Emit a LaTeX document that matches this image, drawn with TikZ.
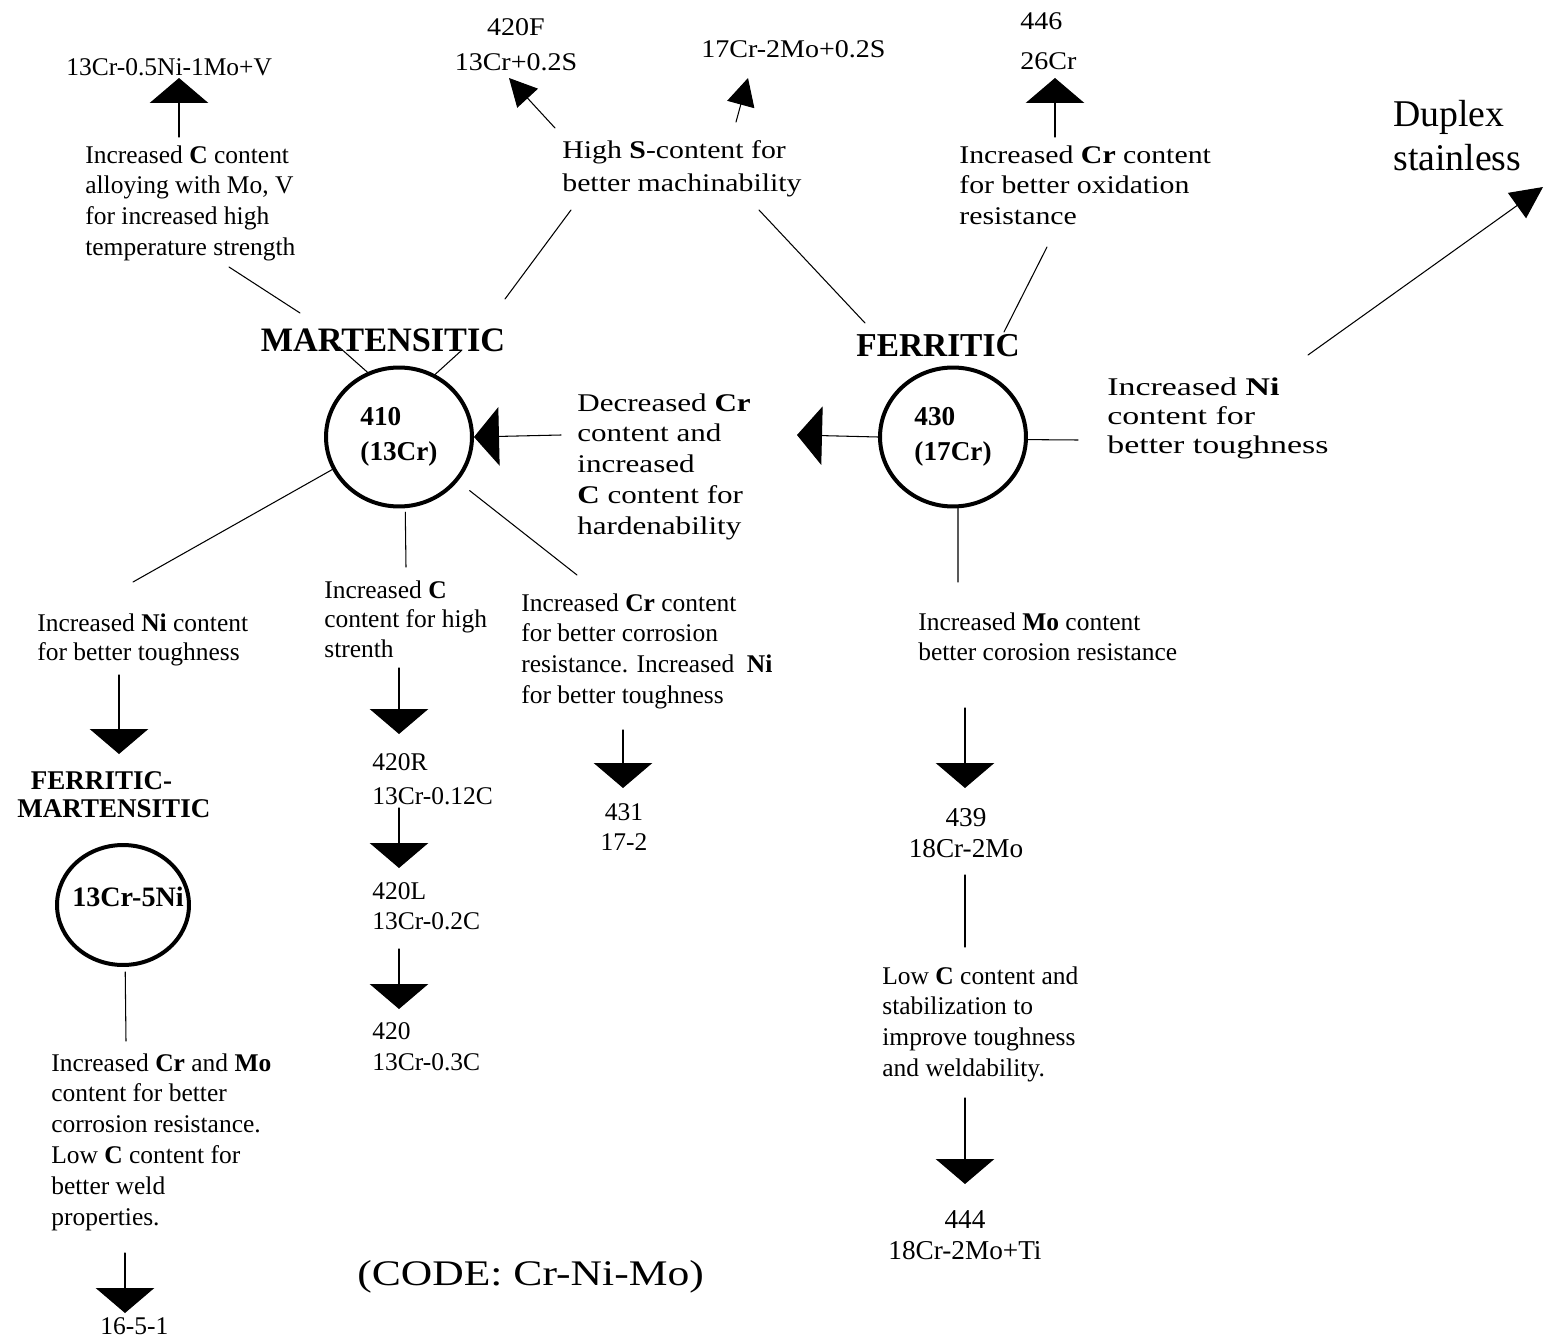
\documentclass[tikz,border=0pt]{standalone}
\usepackage{fontspec}
\setmainfont{Liberation Serif}
\newfontfamily\strA[FakeStretch=1.10]{Liberation Serif}
\newfontfamily\strB[FakeStretch=1.17]{Liberation Serif}
\newfontfamily\strC[FakeStretch=1.22]{Liberation Serif}
\newfontfamily\strD[FakeStretch=1.33]{Liberation Serif}
\newcommand\fsN{\fontsize{14.5pt}{17.6pt}\selectfont}
\usetikzlibrary{arrows.meta,shapes.geometric,positioning}

\begin{document}
\begin{tikzpicture}[x=0.02cm,y=-0.02cm,line cap=round,
  txt/.style={anchor=north west,align=left,inner sep=0pt,font=\fsN},
  lbl/.style={anchor=north west,align=left,inner sep=0pt,font=\fsN},
  head/.style={inner sep=0pt,font=\bfseries\fontsize{19.5pt}{22pt}\selectfont},
  ring/.style={draw,ellipse,line width=0.08cm,inner sep=0pt,
               minimum width=2.92cm,minimum height=2.78cm,align=left,
               font=\bfseries\fontsize{15.5pt}{20pt}\selectfont},
  lnk/.style={line width=0.6pt},
  arrV/.style={lnk,-{Triangle[length=0.5cm,width=1.17cm]}},
  arrS/.style={lnk,-{Triangle[length=0.55cm,width=0.56cm]}},
  arrL/.style={lnk,-{Triangle[length=0.64cm,width=0.62cm]}}]
  \useasboundingbox (0,0) rectangle (1548,1341);

  % top row
  \node[lbl] (l13V) at (66,58) {13Cr-0.5Ni-1Mo+V};
  \node[txt] (tHiT) at (85,145) {Increased \textbf{C} content\\alloying with Mo, V\\for increased high\\temperature strength};
  \node[lbl,anchor=north,align=center,font=\strA\fontsize{14.5pt}{20pt}\selectfont] (l420F) at (516,18) {420F\\13Cr+0.2S};
  \node[lbl,font=\strA\fsN] (l17S) at (701,40) {17Cr-2Mo+0.2S};
  \node[txt,font=\strB\fontsize{14.5pt}{18.8pt}\selectfont] (tS) at (562,140) {High \textbf{S}-content for\\better machinability};
  \node[lbl,font=\strA\fontsize{14.5pt}{23pt}\selectfont] (l446) at (1020,12) {446\\26Cr};
  \node[txt,font=\strB\fsN] (tCr) at (959,145) {Increased \textbf{Cr} content\\for better oxidation\\resistance};
  \node[lbl,font=\fontsize{21.5pt}{25pt}\selectfont] (lDup) at (1393,100) {Duplex\\stainless};

  % families
  \node[head] (hMar) at (383,340) {MARTENSITIC};
  \node[head,font=\bfseries\fontsize{19pt}{22pt}\selectfont] (hFer) at (938,346) {FERRITIC};
  \node[ring] (c410) at (399,437) {410\\(13Cr)};
  \node[ring] (c430) at (953,437) {430\\(17Cr)};
  \node[txt,font=\strC\fsN] (tDec) at (577,393) {Decreased \textbf{Cr}\\content and\\increased\\\textbf{C} content for\\hardenability};
  \node[txt,font=\strD\fontsize{14.5pt}{16.7pt}\selectfont] (tNiR) at (1107,377) {Increased \textbf{Ni}\\content for\\better toughness};

  % lower branches
  \node[txt,font=\fontsize{14.5pt}{17pt}\selectfont] (tNiL) at (37,613) {Increased \textbf{Ni} content\\for better toughness};
  \node[txt,font=\fontsize{14.5pt}{17pt}\selectfont] (tC) at (324,580) {Increased \textbf{C}\\content for high\\strenth};
  \node[txt,font=\fontsize{14.5pt}{17.5pt}\selectfont] (tCrNi) at (521,593) {Increased \textbf{Cr} content\\for better corrosion\\resistance. Increased~~\textbf{Ni}\\for better toughness};
  \node[txt] (tMo) at (918,612) {Increased \textbf{Mo} content\\better corosion resistance};
  \node[txt] (tLowC) at (882,966) {Low \textbf{C} content and\\stabilization to\\improve toughness\\and weldability.};
  \node[txt] (tCrMo) at (51,1053) {Increased \textbf{Cr} and \textbf{Mo}\\content for better\\corrosion resistance.\\Low \textbf{C} content for\\better weld\\properties.};

  \node[lbl,font=\bfseries\fontsize{15.4pt}{16pt}\selectfont] (hFM) at (17,771) {\hspace*{0.5em}FERRITIC-\\MARTENSITIC};
  \node[ring,minimum width=2.64cm,minimum height=2.40cm] (cNi) at (123,905) {};
  \node[inner sep=0pt,font=\bfseries\fontsize{16pt}{18pt}\selectfont] (tNi) at (128,897) {13Cr-5Ni};
  \node[lbl,font=\fontsize{14.5pt}{19.4pt}\selectfont] (l420R) at (372,753) {420R\\13Cr-0.12C};
  \node[lbl,font=\fontsize{14.5pt}{17pt}\selectfont] (l420L) at (372,882) {420L\\13Cr-0.2C};
  \node[lbl] (l420) at (372,1022) {420\\13Cr-0.3C};
  \node[lbl,anchor=north,align=center,font=\fontsize{14.5pt}{17pt}\selectfont] (l431) at (624,803) {431\\17-2};
  \node[lbl,anchor=north,align=center,font=\fontsize{15.5pt}{17.6pt}\selectfont] (l439) at (966,808) {439\\18Cr-2Mo};
  \node[lbl,anchor=north,align=center,font=\fontsize{15.5pt}{17.6pt}\selectfont] (l444) at (965,1210) {444\\18Cr-2Mo+Ti};
  \node[lbl] (l1651) at (100,1317) {16-5-1};
  \node[lbl,font=\strB\fontsize{20.5pt}{24pt}\selectfont,xscale=1] (lCode) at (357,1260) {\addfontfeature{FakeStretch=1.21}(CODE: Cr-Ni-Mo)};

  % free ends of the connectors
  \coordinate (e13a) at (179,137);   \coordinate (e13b) at (179,78);
  \coordinate (e20a) at (555,128);   \coordinate (e20b) at (509,78);
  \coordinate (e17a) at (736,122);   \coordinate (e17b) at (748,78);
  \coordinate (e46a) at (1055,137);  \coordinate (e46b) at (1055,78);
  \coordinate (eDpa) at (1308,355);  \coordinate (eDpb) at (1543,187);
  \coordinate (eM1a) at (229,267);   \coordinate (eM1b) at (300,313);
  \coordinate (eM2a) at (571,210);   \coordinate (eM2b) at (505,299);
  \coordinate (eF1a) at (759,210);   \coordinate (eF1b) at (865,323);
  \coordinate (eF2a) at (1047,247);  \coordinate (eF2b) at (1004,332);
  \coordinate (eK1) at (339,347);    \coordinate (eK2) at (462,350);
  \coordinate (eDec) at (561,435);   \coordinate (eLft) at (797,435);
  \coordinate (eRgt) at (1078,440);
  \coordinate (eB1) at (133,582);    \coordinate (eB2) at (406,567);
  \coordinate (eB3) at (577,575);    \coordinate (eB4) at (958,582);
  \coordinate (eN1a) at (119,675);   \coordinate (eN1b) at (119,754);
  \coordinate (eNi) at (126,1041);
  \coordinate (eN2a) at (125,1253);  \coordinate (eN2b) at (125,1313);
  \coordinate (eR1a) at (399,668);   \coordinate (eR1b) at (399,734);
  \coordinate (eR2a) at (399,808);   \coordinate (eR2b) at (399,868);
  \coordinate (eR3a) at (399,949);   \coordinate (eR3b) at (399,1009);
  \coordinate (e31a) at (623,730);   \coordinate (e31b) at (623,788);
  \coordinate (e39a) at (965,708);   \coordinate (e39b) at (965,788);
  \coordinate (e39c) at (965,875);   \coordinate (e39d) at (965,947);
  \coordinate (e44a) at (965,1098);  \coordinate (e44b) at (965,1184);

  % connectors
  \draw[arrV] (e13a) -- (e13b);
  \draw[arrS] (e20a) -- (e20b);
  \draw[arrS] (e17a) -- (e17b);
  \draw[arrV] (e46a) -- (e46b);
  \draw[arrL] (eDpa) -- (eDpb);
  \draw[lnk] (eM1a) -- (eM1b);
  \draw[lnk] (eM2a) -- (eM2b);
  \draw[lnk] (eF1a) -- (eF1b);
  \draw[lnk] (eF2a) -- (eF2b);
  \draw[lnk] (c410.116) -- (eK1);
  \draw[lnk] (c410.60) -- (eK2);
  \draw[arrV] (eDec) -- (c410.east);
  \draw[arrV] (c430.west) -- (eLft);
  \draw[lnk] (c430.-2) -- (eRgt);
  \draw[lnk] (c410.206) -- (eB1);
  \draw[lnk,shorten <=0.08cm] (c410.275) -- (eB2);
  \draw[lnk,shorten <=0.3cm] (c410.323) -- (eB3);
  \draw[lnk] (c430.274) -- (eB4);
  \draw[arrV] (eN1a) -- (eN1b);
  \draw[lnk,shorten <=0.1cm] (cNi.272) -- (eNi);
  \draw[arrV] (eN2a) -- (eN2b);
  \draw[arrV] (eR1a) -- (eR1b);
  \draw[arrV] (eR2a) -- (eR2b);
  \draw[arrV] (eR3a) -- (eR3b);
  \draw[arrV] (e31a) -- (e31b);
  \draw[arrV] (e39a) -- (e39b);
  \draw[lnk] (e39c) -- (e39d);
  \draw[arrV] (e44a) -- (e44b);
\end{tikzpicture}
\end{document}
